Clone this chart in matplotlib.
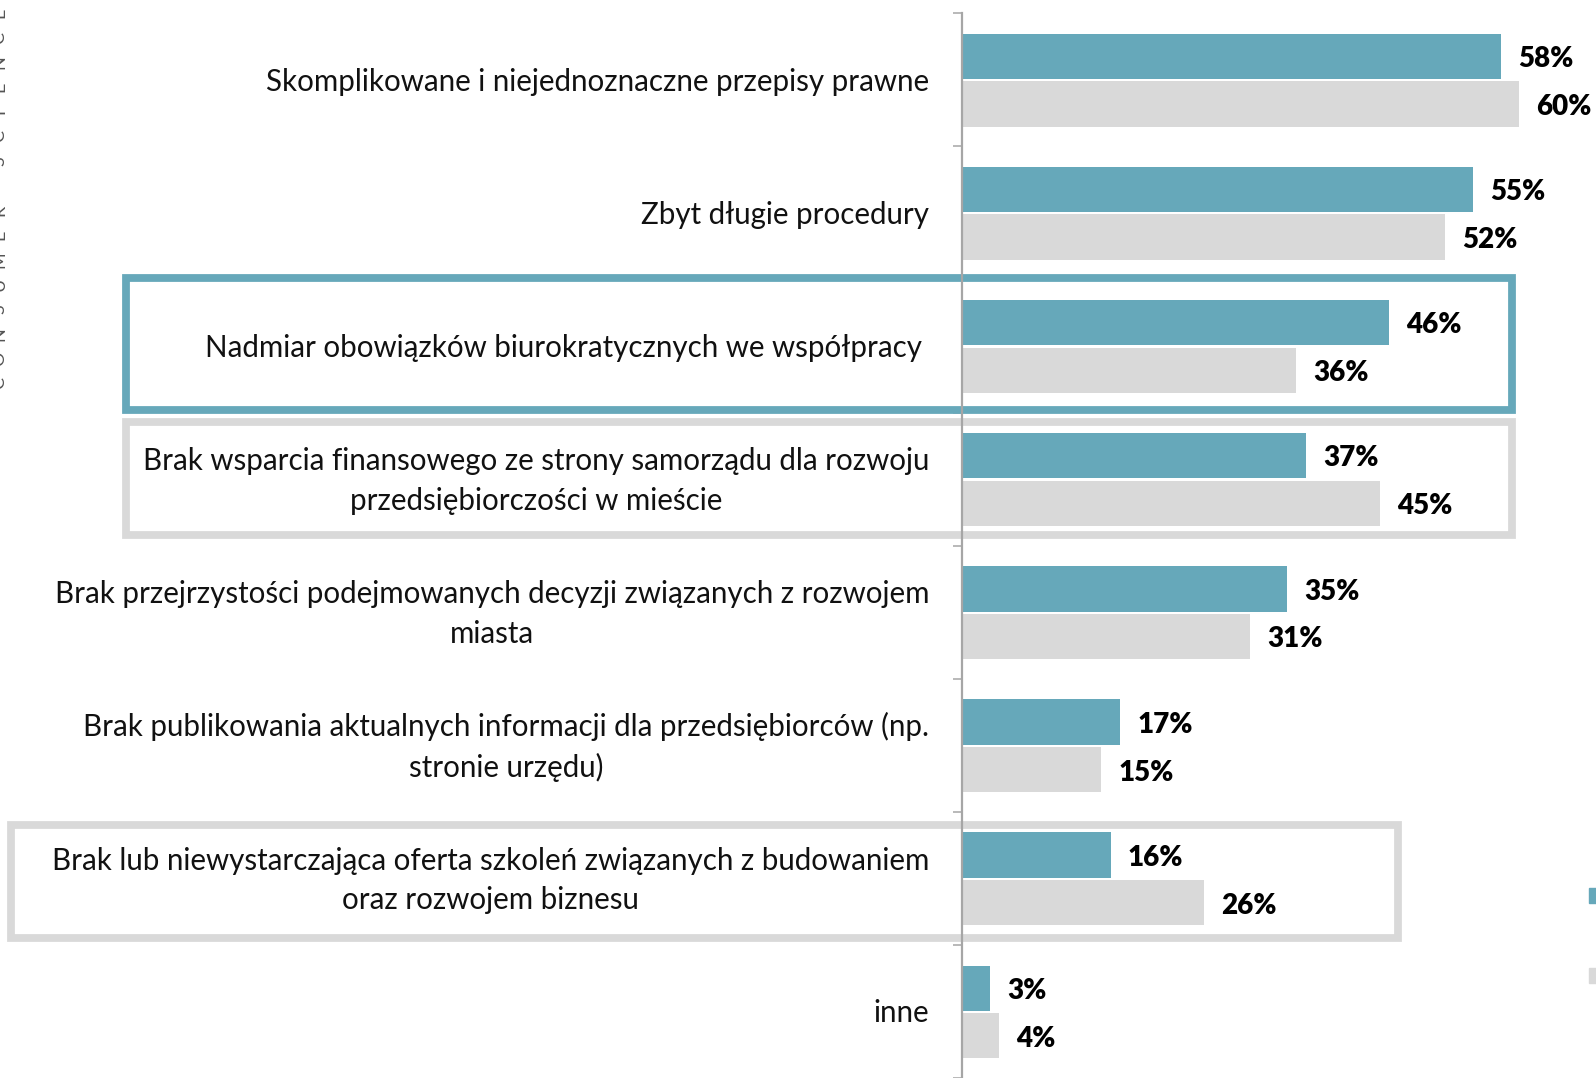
import numpy as np
import matplotlib
matplotlib.use("Agg")
import matplotlib.pyplot as plt
from matplotlib.patches import Rectangle

plt.rcParams['font.family'] = ['Lato', 'DejaVu Sans']

categories = [
    "Skomplikowane i niejednoznaczne przepisy prawne",
    "Zbyt długie procedury",
    "Nadmiar obowiązków biurokratycznych we współpracy",
    "Brak wsparcia finansowego ze strony samorządu dla rozwoju\nprzedsiębiorczości w mieście",
    "Brak przejrzystości podejmowanych decyzji związanych z rozwojem\nmiasta",
    "Brak publikowania aktualnych informacji dla przedsiębiorców (np.\nstronie urzędu)",
    "Brak lub niewystarczająca oferta szkoleń związanych z budowaniem\noraz rozwojem biznesu",
    "inne",
]
series_a = [58, 55, 46, 37, 35, 17, 16, 3]
series_b = [60, 52, 36, 45, 31, 15, 26, 4]

TEAL = '#66a8ba'
GRAY = '#d9d9d9'
AXIS = '#a6a6a6'

W, H = 1596, 1078
fig = plt.figure(figsize=(W / 100, H / 100), dpi=100)
ax = fig.add_axes([0, 0, 1, 1])

px_per_unit = 9.29
x0 = 962
pitch = 133.6
top = -0.5 - 13.3 / pitch
ax.set_xlim(-x0 / px_per_unit, (W - x0) / px_per_unit)
ax.set_ylim(top + H / pitch, top)

y = np.arange(len(categories))
ax.barh(y - 0.175, series_a, height=0.34, color=TEAL, zorder=3)
ax.barh(y + 0.182, series_b, height=0.34, color=GRAY, zorder=3)

for i, (a, b) in enumerate(zip(series_a, series_b)):
    ax.annotate(f"{a}%", (a, i - 0.155), xytext=(12.4, 0), textcoords='offset points',
                ha='left', va='center', fontsize=20, fontweight='heavy', color='#000000')
    ax.annotate(f"{b}%", (b, i + 0.205), xytext=(12.4, 0), textcoords='offset points',
                ha='left', va='center', fontsize=20, fontweight='heavy', color='#000000')

for i, lab in enumerate(categories):
    xl = -3.5 if i != 2 else -4.3
    ax.text(xl, i + 0.015, lab, ha='right', va='center', multialignment='center',
            fontsize=21.25, color='#111111', linespacing=1.5)

# highlight frames (pixel geometry -> data)
def px2x(p):
    return (p - x0) / px_per_unit

def px2y(p):
    return top + p / pitch

frames = [
    (125.5, 278.7, 1512, 411.7, TEAL),
    (125.5, 423.8, 1512, 537.0, GRAY),
    (11.5, 828.3, 1398.3, 941.7, GRAY),
]
for xa, ya, xb, yb, c in frames:
    ax.add_patch(Rectangle((px2x(xa), px2y(ya)), px2x(xb) - px2x(xa), px2y(yb) - px2y(ya),
                           fill=False, edgecolor=c, linewidth=5.6, zorder=2))

for s in ['top', 'right', 'bottom']:
    ax.spines[s].set_visible(False)
ax.spines['left'].set_position(('data', 0))
ax.spines['left'].set_bounds(-0.5, len(categories) - 0.5)
ax.spines['left'].set_color(AXIS)
ax.spines['left'].set_linewidth(1.6)
ax.spines['left'].set_zorder(4)
ax.set_xticks([])
ax.set_yticks(np.arange(-0.5, len(categories), 1))
ax.set_yticklabels([])
ax.tick_params(axis='y', direction='out', length=6.5, width=1.1, color=AXIS)
ax.set_facecolor('none')

# side caption, cut by the left edge as in the source image
caption = "CONSUMER SCIENCE"
ys = np.linspace(383, 13, len(caption))
for ch, yy in zip(caption, ys):
    fig.text(-1 / W, 1 - yy / H, ch, rotation=90, ha='center', va='center',
             fontsize=13, color='#555555')

# legend markers cut by the right edge
fig.patches.append(Rectangle((1589 / W, 1 - 903.3 / H), 16 / W, 15.6 / H,
                             transform=fig.transFigure, color=TEAL))
fig.patches.append(Rectangle((1589 / W, 1 - 983.3 / H), 16 / W, 15.6 / H,
                             transform=fig.transFigure, color=GRAY))

fig.savefig('out.png', dpi=100)
